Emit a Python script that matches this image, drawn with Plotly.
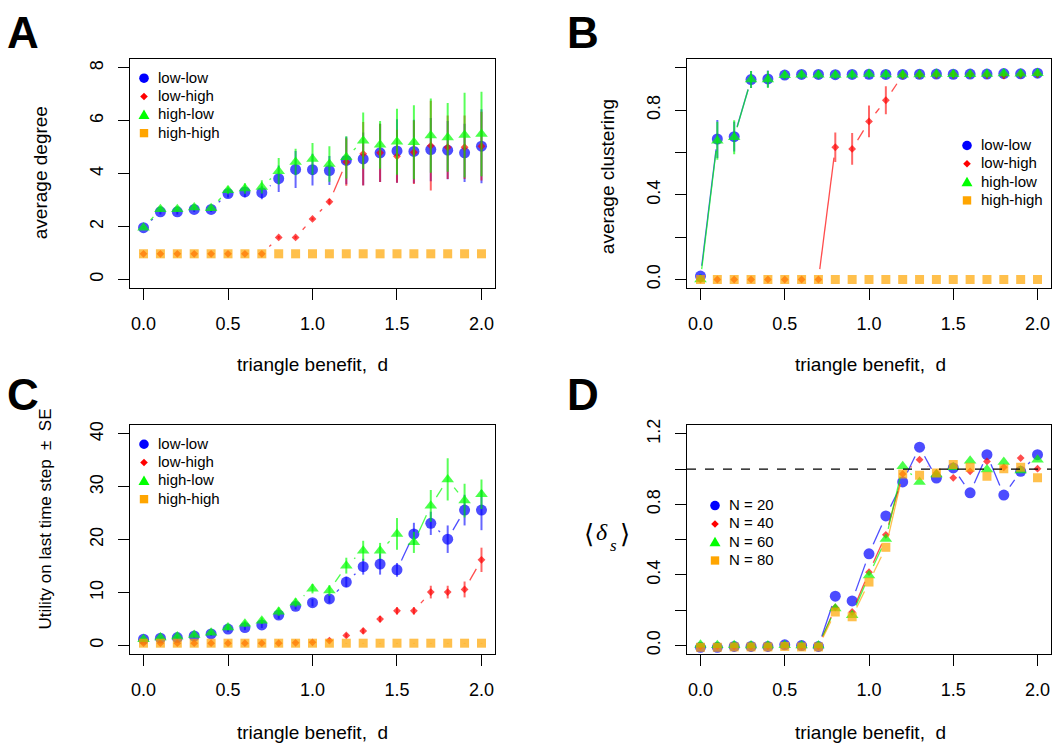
import math
import plotly.graph_objects as go

W, H = 1053, 746

# ---------------- data ----------------
d = [round(0.1 * i, 1) for i in range(21)]

# Panel A: average degree
deg_ll = [1.96, 2.56, 2.56, 2.65, 2.65, 3.25, 3.31, 3.28, 3.81, 4.16, 4.15, 4.12, 4.50, 4.56, 4.79, 4.86, 4.84, 4.91, 4.89, 4.79, 5.04]
deg_lh = [0.97, 0.97, 0.97, 0.97, 0.97, 0.97, 0.97, 0.97, 1.59, 1.59, 2.29, 2.94, 4.44, 4.75, 4.79, 4.66, 4.81, 5.06, 5.00, 5.00, 5.04]
deg_hl = [1.96, 2.66, 2.66, 2.72, 2.69, 3.37, 3.44, 3.50, 4.09, 4.44, 4.56, 4.37, 4.62, 5.25, 5.09, 5.21, 5.19, 5.44, 5.37, 5.46, 5.50]
deg_hh = [0.97] * 21
deg_ll_se = [0.05, 0.1, 0.1, 0.1, 0.1, 0.15, 0.2, 0.25, 0.5, 0.7, 0.6, 0.55, 0.9, 1.0, 1.1, 1.2, 1.2, 1.2, 1.1, 1.1, 1.4]
deg_lh_se = [0, 0, 0, 0, 0, 0, 0, 0, 0.05, 0.05, 0.05, 0.1, 0.9, 1.2, 1.1, 1.0, 1.2, 1.7, 1.2, 1.2, 1.3]
deg_hl_se = [0.05, 0.1, 0.1, 0.1, 0.1, 0.15, 0.2, 0.25, 0.5, 0.5, 0.6, 0.67, 0.8, 1.06, 0.9, 1.25, 1.4, 1.4, 1.3, 1.6, 1.6]
deg_hh_se = [0.0] * 21

# Panel B: average clustering
clu_ll = [0.016, 0.664, 0.675, 0.945, 0.948, 0.966, 0.969, 0.969, 0.968, 0.969, 0.970, 0.969, 0.969, 0.970, 0.971, 0.970, 0.971, 0.971, 0.973, 0.972, 0.975]
clu_lh = [0.0, 0.0, 0.0, 0.0, 0.0, 0.0, 0.0, 0.0, 0.625, 0.617, 0.747, 0.847, 0.966, 0.968, 0.969, 0.970, 0.970, 0.968, 0.966, 0.970, 0.972]
clu_hl = [0.0, 0.656, 0.672, 0.945, 0.945, 0.965, 0.968, 0.968, 0.967, 0.968, 0.971, 0.969, 0.968, 0.969, 0.971, 0.970, 0.970, 0.971, 0.974, 0.972, 0.975]
clu_hh = [0.0] * 21
clu_ll_se = [0.01, 0.09, 0.07, 0.04, 0.04, 0.02, 0.02, 0.02, 0.02, 0.02, 0.02, 0.02, 0.02, 0.02, 0.02, 0.02, 0.02, 0.02, 0.02, 0.02, 0.02]
clu_lh_se = [0, 0, 0, 0, 0, 0, 0, 0, 0.07, 0.075, 0.075, 0.066, 0.02, 0.02, 0.02, 0.02, 0.02, 0.02, 0.02, 0.02, 0.02]
clu_hl_se = [0.0, 0.09, 0.08, 0.04, 0.04, 0.02, 0.02, 0.02, 0.02, 0.02, 0.02, 0.02, 0.02, 0.02, 0.02, 0.02, 0.02, 0.02, 0.02, 0.02, 0.02]
clu_hh_se = [0.0] * 21

# Panel C: utility on last time step
ut_ll = [1.19, 1.38, 1.5, 1.8, 2.2, 3.1, 3.4, 3.9, 5.75, 7.4, 8.1, 8.8, 12.0, 14.9, 15.4, 14.3, 21.1, 23.1, 20.1, 25.6, 25.6]
ut_lh = [0.45, 0.45, 0.45, 0.45, 0.45, 0.45, 0.45, 0.45, 0.45, 0.5, 0.6, 0.94, 1.9, 2.75, 5.0, 6.56, 6.56, 10.1, 10.1, 10.6, 16.2]
ut_hl = [1.2, 1.5, 1.7, 2.0, 2.4, 3.4, 4.1, 4.7, 6.4, 8.1, 10.75, 10.4, 15.1, 17.9, 17.9, 21.1, 19.5, 26.4, 31.4, 27.4, 28.6]
ut_hh = [0.44] * 21
ut_ll_se = [0.2, 0.2, 0.3, 0.3, 0.4, 0.5, 0.5, 0.6, 0.7, 0.6, 0.7, 0.8, 1.0, 1.5, 2.0, 1.3, 2.1, 2.2, 2.6, 2.9, 3.8]
ut_lh_se = [0.05] * 11 + [0.2, 0.4, 0.5, 0.6, 0.7, 0.7, 1.2, 1.2, 1.5, 2.3]
ut_hl_se = [0.2, 0.2, 0.3, 0.3, 0.4, 0.5, 0.6, 0.6, 0.8, 0.8, 0.9, 1.0, 1.5, 1.9, 1.5, 3.0, 2.0, 3.0, 4.0, 3.2, 2.8]
ut_hh_se = [0.05] * 21

# Panel D: <delta_s>
ds_20 = [-0.01, -0.01, -0.005, -0.005, -0.005, 0.004, 0.0, -0.005, 0.28, 0.253, 0.52, 0.735, 0.928, 1.125, 0.95, 1.007, 0.866, 1.082, 0.853, 0.988, 1.082]
ds_40 = [-0.005, -0.005, -0.005, -0.005, -0.005, 0.0, -0.005, -0.005, 0.216, 0.19, 0.416, 0.628, 0.973, 1.054, 0.979, 0.951, 0.988, 1.044, 1.011, 1.063, 1.003]
ds_60 = [0.004, 0.002, 0.002, 0.0, 0.0, 0.002, 0.0, 0.0, 0.21, 0.172, 0.397, 0.604, 1.016, 0.928, 0.97, 1.011, 1.048, 0.998, 1.041, 0.992, 1.054]
ds_80 = [-0.01, -0.01, -0.008, -0.008, -0.008, -0.005, -0.008, -0.008, 0.19, 0.163, 0.36, 0.557, 0.973, 0.966, 0.979, 1.026, 1.011, 0.96, 1.003, 1.011, 0.951]

group_names = ["low-low", "low-high", "high-low", "high-high"]
n_names = ["N = 20", "N = 40", "N = 60", "N = 80"]

x_ticks = [0.0, 0.5, 1.0, 1.5, 2.0]
x_ticktext = ["0.0", "0.5", "1.0", "1.5", "2.0"]

# ---------------- style ----------------
COLORS = ["rgba(0,0,255,0.7)", "rgba(255,0,0,0.7)", "rgba(0,255,0,0.7)", "rgba(255,165,0,0.7)"]
COLORS_EB = ["rgba(0,0,255,0.6)", "rgba(255,0,0,0.6)", "rgba(0,255,0,0.65)", "rgba(255,165,0,0.6)"]
SOLID = ["rgb(0,0,255)", "rgb(255,0,0)", "rgb(0,255,0)", "rgb(255,165,0)"]
SYMBOLS = ["circle", "diamond", "triangle-up", "square"]
SIZES = [11, 6, 11, 9]
FONT = "Liberation Sans, Arial, Helvetica, sans-serif"
SERIF = "Liberation Serif, DejaVu Serif, serif"

# panel boxes in pixels: (left, top, right, bottom)
BOX = {
    1: (130, 53, 495, 284),
    2: (687, 53, 1051, 284),
    3: (130, 423, 495, 654),
    4: (687, 423, 1051, 654),
}
XR = [-0.08, 2.08]
YR = {1: [-0.32, 8.32], 2: [-0.04, 1.04], 3: [-1.6, 41.6], 4: [-0.048, 1.248]}

fig = go.Figure()


def b_segments(xs, ys, panel, gap=10.5):
    l, t, r, b = BOX[panel]
    sx = (r - l) / (XR[1] - XR[0])
    sy = (b - t) / (YR[panel][1] - YR[panel][0])
    X, Y = [], []
    for i in range(len(xs) - 1):
        x0, y0, x1, y1 = xs[i], ys[i], xs[i + 1], ys[i + 1]
        L = math.hypot((x1 - x0) * sx, (y1 - y0) * sy)
        if L > 2 * gap:
            f = gap / L
            X += [x0 + f * (x1 - x0), x1 - f * (x1 - x0), None]
            Y += [y0 + f * (y1 - y0), y1 - f * (y1 - y0), None]
    return X, Y


def axname(panel, kind):
    return kind if panel == 1 else f"{kind}{panel}"


def add_series(panel, ys, se, k, name):
    xa, ya = axname(panel, "x"), axname(panel, "y")
    sx, sy = b_segments(d, ys, panel)
    fig.add_trace(go.Scatter(x=sx, y=sy, mode="lines", xaxis=xa, yaxis=ya,
                             line=dict(color=COLORS[k], width=1.3),
                             showlegend=False, hoverinfo="skip"))
    err = None
    if se is not None:
        err = dict(type="data", array=se, visible=True, color=COLORS_EB[k],
                   thickness=2, width=0)
    fig.add_trace(go.Scatter(x=d, y=ys, mode="markers", xaxis=xa, yaxis=ya,
                             marker=dict(symbol=SYMBOLS[k], size=SIZES[k], color=COLORS[k],
                                         line=dict(width=0)),
                             error_y=err, showlegend=False, name=name))


for k, (ys, se) in enumerate([(deg_ll, deg_ll_se), (deg_lh, deg_lh_se), (deg_hl, deg_hl_se), (deg_hh, deg_hh_se)]):
    add_series(1, ys, se, k, group_names[k])
for k, (ys, se) in enumerate([(clu_ll, clu_ll_se), (clu_lh, clu_lh_se), (clu_hl, clu_hl_se), (clu_hh, clu_hh_se)]):
    add_series(2, ys, se, k, group_names[k])
for k, (ys, se) in enumerate([(ut_ll, ut_ll_se), (ut_lh, ut_lh_se), (ut_hl, ut_hl_se), (ut_hh, ut_hh_se)]):
    add_series(3, ys, se, k, group_names[k])
for k, ys in enumerate([ds_20, ds_40, ds_60, ds_80]):
    add_series(4, ys, None, k, n_names[k])

# ---------------- axes ----------------
ytick_cfg = {
    1: ([0, 2, 4, 6, 8], ["0", "2", "4", "6", "8"], None),
    2: ([0, 0.4, 0.8], ["0.0", "0.4", "0.8"], 0.2),
    3: ([0, 10, 20, 30, 40], ["0", "10", "20", "30", "40"], None),
    4: ([0, 0.4, 0.8, 1.2], ["0.0", "0.4", "0.8", "1.2"], 0.2),
}

common = dict(showline=True, mirror=True, linecolor="black", linewidth=1.2,
              ticks="outside", ticklen=11, tickwidth=1.2, tickcolor="black",
              showgrid=False, zeroline=False, fixedrange=True,
              tickfont=dict(family=FONT, size=18, color="black"))

layout_axes = {}
for p in range(1, 5):
    l, t, r, b = BOX[p]
    xk = "xaxis" if p == 1 else f"xaxis{p}"
    yk = "yaxis" if p == 1 else f"yaxis{p}"
    layout_axes[xk] = dict(common, domain=[l / W, r / W], range=XR,
                           anchor=axname(p, "y"), tickvals=x_ticks, ticktext=x_ticktext,
                           ticklabelstandoff=8)
    tv, tt, minor_dt = ytick_cfg[p]
    yax = dict(common, domain=[1 - b / H, 1 - t / H], range=YR[p],
               anchor=axname(p, "x"), tickvals=tv, ticktext=tt,
               tickangle=-90, ticklabelstandoff=8)
    if minor_dt:
        yax["minor"] = dict(dtick=minor_dt, tick0=0, ticks="outside", ticklen=11,
                            tickwidth=1.2, tickcolor="black", showgrid=False)
    layout_axes[yk] = yax

fig.update_layout(**layout_axes)

# dashed reference line in D
fig.add_shape(type="line", xref="x4 domain", yref="y4", x0=0, x1=1, y0=1.0, y1=1.0,
              line=dict(color="black", width=1.3, dash="dash"))

# ---------------- legends (drawn as keys + labels, R style with no box) ----------------
ann = []


def text(x, y, s, size, angle=0, family=FONT, anchor="center"):
    ann.append(dict(x=x / W, y=1 - y / H, xref="paper", yref="paper", text=s, showarrow=False,
                    xanchor=anchor, yanchor="middle", textangle=angle,
                    font=dict(family=family, size=size, color="black")))


def px(x, y):
    return x / W, 1 - y / H


def key(k, cx, cy):
    col = SOLID[k]
    if k == 0:
        r = 4.8
        x0, y0 = px(cx - r, cy + r)
        x1, y1 = px(cx + r, cy - r)
        fig.add_shape(type="circle", xref="paper", yref="paper", x0=x0, y0=y0, x1=x1, y1=y1,
                      fillcolor=col, line=dict(width=0))
    elif k == 1:
        r = 3.8
        pts = [px(cx, cy - r), px(cx + r, cy), px(cx, cy + r), px(cx - r, cy)]
        path = "M " + " L ".join(f"{a:.5f},{b:.5f}" for a, b in pts) + " Z"
        fig.add_shape(type="path", xref="paper", yref="paper", path=path, fillcolor=col,
                      line=dict(width=0))
    elif k == 2:
        r = 5.5
        pts = [px(cx, cy - r), px(cx + r, cy + r * 0.75), px(cx - r, cy + r * 0.75)]
        path = "M " + " L ".join(f"{a:.5f},{b:.5f}" for a, b in pts) + " Z"
        fig.add_shape(type="path", xref="paper", yref="paper", path=path, fillcolor=col,
                      line=dict(width=0))
    else:
        r = 4.2
        x0, y0 = px(cx - r, cy + r)
        x1, y1 = px(cx + r, cy - r)
        fig.add_shape(type="rect", xref="paper", yref="paper", x0=x0, y0=y0, x1=x1, y1=y1,
                      fillcolor=col, line=dict(width=0))


def legend(names, mx, tx, ys):
    for k, (nm, yy) in enumerate(zip(names, ys)):
        key(k, mx, yy + 1)
        text(tx, yy, nm, 15, anchor="left")


legend(group_names, 144, 156, [71, 89.5, 108, 126.5])
legend(group_names, 967, 979, [139, 157.5, 176, 194.5])
legend(group_names, 144, 156, [441, 459.5, 478, 496.5])
legend(n_names, 715, 727, [503, 521.5, 540, 558.5])

# ---------------- annotations ----------------
text(23, 26, "<b>A</b>", 44)
text(583, 26, "<b>B</b>", 44)
text(23, 392, "<b>C</b>", 44)
text(583, 392, "<b>D</b>", 44)

text(312, 361, "triangle benefit,  d", 19)
text(870, 361, "triangle benefit,  d", 19)
text(312, 733, "triangle benefit,  d", 19)
text(870, 733, "triangle benefit,  d", 19)

text(40, 168, "average degree", 19, -90)
text(607, 172, "average clustering", 19, -90)
text(45, 518, "Utility on last time step  \u00b1  SE", 17, -90)

# <delta_s> label, horizontal, built from pieces (bracket, italic delta, subscript s, bracket)
text(589, 533, "\u27e8", 26, 0, "DejaVu Serif, serif")
text(601.5, 531, "<i>\u03b4</i>", 24, 0, SERIF)
text(613, 544, "<i>s</i>", 17, 0, SERIF)
text(625, 533, "\u27e9", 26, 0, "DejaVu Serif, serif")

fig.update_layout(annotations=ann, width=W, height=H, margin=dict(l=0, r=0, t=0, b=0),
                  paper_bgcolor="white", plot_bgcolor="white", showlegend=False)

fig.write_html("out.html")
